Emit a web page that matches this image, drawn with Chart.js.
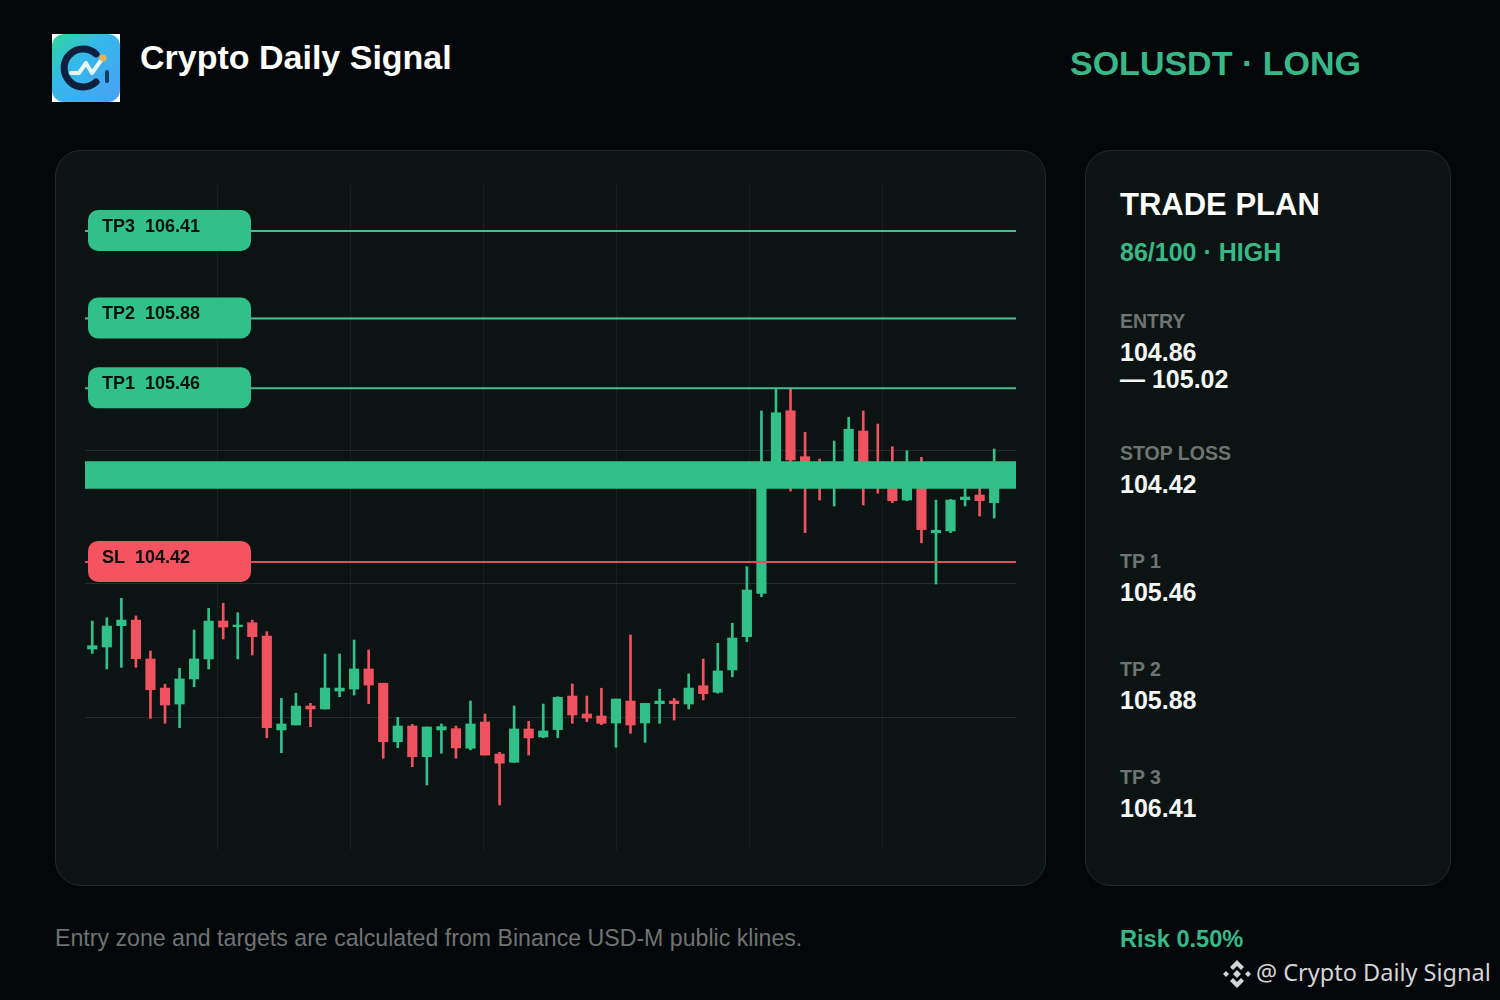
<!DOCTYPE html>
<html>
<head>
<meta charset="utf-8">
<title>Crypto Daily Signal</title>
<script src="https://cdn.jsdelivr.net/npm/chart.js@4"></script>
<style>
  html, body { margin: 0; padding: 0; background: #04070a; }
  #page { position: relative; width: 1500px; height: 1000px; overflow: hidden; background: #04070a;
          font-family: "Liberation Sans", Arial, sans-serif; color: #fff; }
  .t { position: absolute; white-space: nowrap; line-height: 1; font-weight: bold; }
  .card { position: absolute; box-sizing: border-box; background: #0c1413; border: 1px solid #222b2a; border-radius: 26px; }
  .green { color: #38b887; }
  .label { font-size: 19.5px; color: #6e7472; }
  .value { font-size: 25px; color: #f4f6f5; }
  #chartBox { position: absolute; left: 85px; top: 185px; width: 931px; height: 665px; }
</style>
</head>
<body>
<div id="page">
  <svg style="position:absolute;left:52px;top:34px" width="68" height="68" viewBox="0 0 68 68">
    <defs>
      <linearGradient id="logoBg" x1="0" y1="0" x2="1" y2="1">
        <stop offset="0" stop-color="#2fd69a"/><stop offset="0.4" stop-color="#35b8ea"/><stop offset="1" stop-color="#4a9ff5"/>
      </linearGradient>
    </defs>
    <rect width="68" height="68" fill="#fff"/>
    <rect width="68" height="68" rx="12" fill="url(#logoBg)"/>
    <path d="M44 20 A19 19 0 1 0 44 48" fill="none" stroke="#0d1f3c" stroke-width="7" stroke-linecap="round"/>
    <path d="M19 39 H27 L34 29 L40 39 L50 25" fill="none" stroke="#e9f7f7" stroke-width="4" stroke-linecap="round" stroke-linejoin="round"/>
    <circle cx="51" cy="24" r="3.5" fill="#f3b04a"/>
    <rect x="53" y="36" width="4" height="13" rx="2" fill="#0d3a66"/>
  </svg>
  <div class="t" style="left:140px;top:40px;font-size:34px">Crypto Daily Signal</div>
  <div class="t green" style="left:1070px;top:46px;font-size:34px">SOLUSDT · LONG</div>

  <div class="card" style="left:55px;top:150px;width:991px;height:736px"></div>
  <div class="card" style="left:1085px;top:150px;width:366px;height:736px"></div>
  <div id="chartBox"><canvas id="chart" width="931" height="665"></canvas></div>

  <div class="t" style="left:1120px;top:189px;font-size:31px">TRADE PLAN</div>
  <div class="t green" style="left:1120px;top:240px;font-size:25px">86/100 · HIGH</div>
  <div class="t label" style="left:1120px;top:312px">ENTRY</div>
  <div class="t value" style="left:1120px;top:340px">104.86</div>
  <div class="t value" style="left:1120px;top:367px">— 105.02</div>
  <div class="t label" style="left:1120px;top:444px">STOP LOSS</div>
  <div class="t value" style="left:1120px;top:472px">104.42</div>
  <div class="t label" style="left:1120px;top:552px">TP 1</div>
  <div class="t value" style="left:1120px;top:580px">105.46</div>
  <div class="t label" style="left:1120px;top:660px">TP 2</div>
  <div class="t value" style="left:1120px;top:688px">105.88</div>
  <div class="t label" style="left:1120px;top:768px">TP 3</div>
  <div class="t value" style="left:1120px;top:796px">106.41</div>

  <div class="t" style="left:55px;top:927px;font-size:23.15px;font-weight:normal;color:#6e7472">Entry zone and targets are calculated from Binance USD-M public klines.</div>
  <div class="t green" style="left:1120px;top:928px;font-size:23.6px">Risk 0.50%</div>

  <svg style="position:absolute;left:1223px;top:960px" width="28" height="28" viewBox="0 0 28 28" fill="#d4d4d4">
    <path d="M14 0 L21 7 L18 10 L14 6 L10 10 L7 7 Z"/>
    <path d="M14 28 L21 21 L18 18 L14 22 L10 18 L7 21 Z"/>
    <path d="M0 14 L3 11 L6 14 L3 17 Z"/>
    <path d="M22 14 L25 11 L28 14 L25 17 Z"/>
    <path d="M14 10 L18 14 L14 18 L10 14 Z"/>
  </svg>
  <div class="t" style="left:1256px;top:961px;font-size:23.5px;font-weight:normal;font-family:'Noto Sans','Open Sans',sans-serif;color:#d4d4d4">@ Crypto Daily Signal</div>
</div>

<script>
// Candles, oldest first
const opens = [103.896,103.908,104.036,104.070,103.836,103.661,103.565,103.716,103.836,104.064,104.030,104.054,103.974,103.409,103.439,103.553,103.535,103.643,103.655,103.776,103.690,103.338,103.433,103.248,103.409,103.417,103.299,103.457,103.264,103.215,103.415,103.367,103.411,103.613,103.505,103.493,103.451,103.583,103.451,103.567,103.583,103.565,103.675,103.636,103.770,103.970,104.231,104.973,105.329,105.053,104.973,104.943,104.973,105.207,104.985,104.973,104.792,104.973,104.596,104.606,104.794,104.822,104.776];
const highs = [104.064,104.084,104.201,104.095,103.884,103.684,103.780,104.010,104.141,104.171,104.114,104.070,104.000,103.599,103.630,103.569,103.866,103.866,103.950,103.890,103.690,103.485,103.443,103.427,103.445,103.433,103.583,103.505,103.275,103.553,103.461,103.565,103.609,103.686,103.613,103.660,103.595,103.980,103.569,103.654,103.599,103.746,103.836,103.930,104.051,104.391,105.328,105.464,105.464,105.199,105.039,105.147,105.290,105.328,105.249,105.113,105.089,105.049,104.792,104.796,104.864,104.864,105.099];
const lows = [103.870,103.776,103.786,103.786,103.479,103.449,103.423,103.669,103.776,103.956,103.836,103.860,103.362,103.272,103.439,103.429,103.535,103.609,103.619,103.567,103.239,103.302,103.188,103.078,103.269,103.239,103.289,103.258,102.958,103.213,103.258,103.362,103.362,103.449,103.459,103.441,103.305,103.389,103.335,103.449,103.469,103.535,103.589,103.630,103.729,103.940,104.211,104.925,104.846,104.596,104.792,104.756,104.913,104.762,104.833,104.776,104.788,104.535,104.287,104.596,104.756,104.696,104.684];
const closes = [103.916,104.034,104.070,103.838,103.651,103.559,103.716,103.836,104.064,104.028,104.040,103.970,103.423,103.445,103.553,103.535,103.661,103.661,103.776,103.679,103.338,103.433,103.248,103.427,103.429,103.301,103.445,103.258,103.209,103.415,103.361,103.403,103.605,103.499,103.481,103.449,103.595,103.439,103.569,103.583,103.567,103.661,103.627,103.764,103.962,104.251,104.973,105.317,105.033,104.985,104.925,105.003,105.218,104.943,104.925,104.788,104.943,104.614,104.610,104.792,104.810,104.788,104.913];

// Trade levels (labels show these rounded to two decimals)
const levelNames = ['TP3', 'TP2', 'TP1', 'SL'];
const levelPrices = [106.41, 105.884, 105.464, 104.42];
const entryLow = 104.86;
const entryHigh = 105.025;

const priceMin = 102.687;
const priceMax = 106.687;
const slotCount = 64;

const GREEN = '#31c088';
const RED = '#f0525f';

function candleColor(ctx) {
    const i = ctx.dataIndex;
    return closes[i] >= opens[i] ? GREEN : RED;
}

const wicks = opens.map((o, i) => ({ x: i + 0.5, y: [lows[i], highs[i]] }));
const bodies = opens.map((o, i) => ({ x: i + 0.5, y: [o, closes[i]] }));

const levelSets = levelPrices.map((price, i) => ({
    type: 'line',
    label: levelNames[i],
    data: [{ x: 0, y: price }, { x: slotCount, y: price }],
    borderColor: levelNames[i] === 'SL' ? '#dc505c' : '#4dbb90',
    borderWidth: 2,
    pointRadius: 0,
    order: 1
}));

// Draws the price tags on top of the level lines
const tagPlugin = {
    id: 'levelTags',
    afterDatasetsDraw(chart) {
        const c = chart.ctx;
        const yScale = chart.scales.y;
        c.save();
        levelPrices.forEach((price, i) => {
            const y = yScale.getPixelForValue(price);
            c.fillStyle = levelNames[i] === 'SL' ? '#f4535f' : GREEN;
            c.beginPath();
            c.roundRect(3, y - 21, 163, 41, 10);
            c.fill();
            c.fillStyle = '#07120e';
            c.font = 'bold 18px "Liberation Sans"';
            c.textBaseline = 'middle';
            c.fillText(levelNames[i] + '  ' + price.toFixed(2), 17, y - 4);
        });
        c.restore();
    }
};

function gridHidden(ctx) {
    return ctx.index === 0 || ctx.index === ctx.scale.ticks.length - 1;
}

new Chart(document.getElementById('chart').getContext('2d'), {
    data: {
        datasets: [
            {
                type: 'bar',
                label: 'wick',
                data: wicks,
                backgroundColor: candleColor,
                barThickness: 2,
                grouped: false,
                order: 5
            },
            {
                type: 'bar',
                label: 'body',
                data: bodies,
                backgroundColor: candleColor,
                barThickness: 9.5,
                grouped: false,
                order: 4
            },
            {
                type: 'line',
                label: 'entry zone',
                data: [{ x: 0, y: entryHigh }, { x: slotCount, y: entryHigh }],
                borderWidth: 0,
                pointRadius: 0,
                backgroundColor: GREEN,
                fill: { value: entryLow },
                order: 3
            },
            ...levelSets
        ]
    },
    plugins: [tagPlugin],
    options: {
        responsive: false,
        animation: false,
        layout: { padding: 0 },
        plugins: { legend: { display: false }, tooltip: { enabled: false } },
        scales: {
            x: {
                type: 'linear',
                min: 0,
                max: slotCount,
                offset: false,
                // vertical grid lines sit a hair left of the even split
                afterBuildTicks(axis) {
                    axis.ticks.forEach(t => { t.value -= 0.02; });
                },
                grid: {
                    offset: false,
                    drawTicks: false,
                    color: ctx => gridHidden(ctx) ? 'transparent' : 'rgba(255,255,255,0.05)'
                },
                border: { display: false },
                ticks: { display: false, count: 8 }
            },
            y: {
                min: priceMin,
                max: priceMax,
                grid: {
                    drawTicks: false,
                    color: ctx => gridHidden(ctx) ? 'transparent' : 'rgba(255,255,255,0.1)'
                },
                border: { display: false },
                ticks: { display: false, count: 6 }
            }
        }
    }
});
</script>
</body>
</html>
